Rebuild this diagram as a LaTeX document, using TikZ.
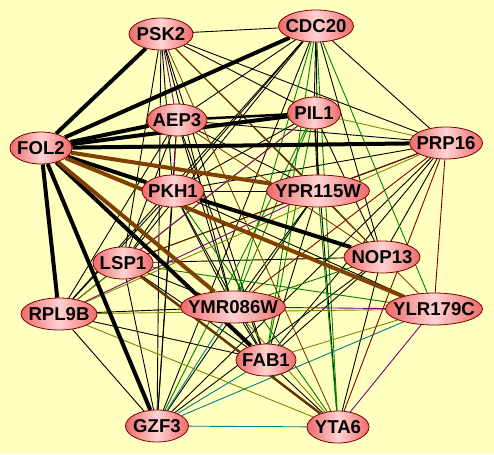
\documentclass[tikz,border=0pt]{standalone}
\usepackage{fontspec}
\setmainfont{Liberation Sans}
\usepackage{tikz}
\usetikzlibrary{shapes.geometric,backgrounds}
\definecolor{CanvasBG}  {HTML}{FFFFC0}
\definecolor{GeneRim}   {HTML}{7A0000}
\definecolor{GeneLight} {HTML}{FFD2D2}
\definecolor{GeneDark}  {HTML}{EE6A6A}
\definecolor{LinkBrown} {HTML}{7F4000}
\definecolor{LinkGreen} {HTML}{008000}
\definecolor{LinkOlive} {HTML}{7A8A00}
\definecolor{LinkTeal}  {HTML}{008080}
\definecolor{LinkPurple}{HTML}{800080}
\definecolor{LinkRed}   {HTML}{800000}

\tikzset{
  gene/.style={ellipse,draw=GeneRim,line width=0.8pt,left color=GeneDark,right color=GeneDark,
    middle color=GeneLight,inner xsep=-20pt,inner ysep=0pt,minimum height=32pt,
    font=\fontsize{18.6}{19}\selectfont\bfseries},
  weak/.style={line width=0.9pt},
  strong/.style={line width=4pt}
}

\begin{document}
\begin{tikzpicture}[x=1pt,y=-1pt]
    \useasboundingbox (0,0) rectangle (494,454);
    \node[gene,minimum width=64pt]  (psk) at (161,34)  {PSK2};
    \node[gene,minimum width=75pt]  (cdc) at (316,26)  {CDC20};
    \node[gene,minimum width=60pt]  (aep) at (177,120) {AEP3};
    \node[gene,minimum width=53pt]  (pil) at (314,113) {PIL1};
    \node[gene,minimum width=62pt]  (fol) at (41,148)  {FOL2};
    \node[gene,minimum width=73pt]  (prp) at (446,143) {PRP16};
    \node[gene,minimum width=62pt]  (pkh) at (173,191) {PKH1};
    \node[gene,minimum width=103pt] (ypr) at (318,191) {YPR115W};
    \node[gene,minimum width=60pt]  (lsp) at (123,263) {LSP1};
    \node[gene,minimum width=76pt]  (nop) at (382,257) {NOP13};
    \node[gene,minimum width=76pt]  (rpl) at (59,314)  {RPL9B};
    \node[gene,minimum width=105pt] (ymr) at (233,307) {YMR086W};
    \node[gene,minimum width=97pt]  (ylr) at (434,309) {YLR179C};
    \node[gene,minimum width=60pt]  (fab) at (266,360) {FAB1};
    \node[gene,minimum width=63pt]  (gzf) at (157,426) {GZF3};
    \node[gene,minimum width=62pt]  (yta) at (338,427) {YTA6};

    \begin{scope}[on background layer]
      \fill[CanvasBG] (0,0) rectangle (494,454);
      \foreach \a/\b in {psk/cdc,psk/pil,psk/prp,psk/ypr,psk/pkh,psk/lsp,psk/gzf,psk/ymr,psk/fab,
          cdc/aep,cdc/pkh,cdc/lsp,cdc/rpl,cdc/pil,cdc/ypr,cdc/prp,cdc/nop,cdc/gzf,
          aep/prp,aep/ypr,aep/lsp,aep/gzf,aep/fab,aep/ymr,aep/rpl,
          pil/pkh,pil/ypr,pil/nop,pil/yta,
          prp/pkh,prp/ypr,prp/fab,prp/nop,prp/gzf,
          pkh/ypr,pkh/lsp,pkh/rpl,pkh/gzf,pkh/fab,pkh/ylr,pkh/ymr,
          ypr/fab,ypr/gzf,ypr/nop,ypr/ymr,
          lsp/rpl,lsp/ymr,lsp/gzf,lsp/fab,lsp/nop,
          nop/fab,nop/gzf,nop/yta,rpl/ymr,rpl/gzf,rpl/fab,ymr/fab,fab/yta}
        \draw[weak,black] (\a) -- (\b);
      \foreach \a/\b in {cdc/ymr,cdc/yta,cdc/ylr,cdc/fab,lsp/ylr,lsp/ypr,nop/ymr,pil/ymr,pil/fab,
          ypr/yta,pil/gzf,pkh/yta}
        \draw[weak,LinkGreen] (\a) -- (\b);
      \foreach \a/\b in {rpl/ylr,rpl/yta,rpl/pil,rpl/prp,pil/prp,fab/ylr,ymr/yta}
        \draw[weak,LinkOlive] (\a) -- (\b);
      \foreach \a/\b in {gzf/yta,gzf/ymr,gzf/ylr,gzf/fab}
        \draw[weak,LinkTeal] (\a) -- (\b);
      \foreach \a/\b in {psk/aep,aep/pkh,lsp/pil,ymr/ylr,ylr/yta,rpl/ypr}
        \draw[weak,LinkPurple] (\a) -- (\b);
      \foreach \a/\b in {prp/ylr,prp/yta,prp/ymr,prp/lsp}
        \draw[weak,LinkRed] (\a) -- (\b);
      \foreach \a/\b in {psk/yta,psk/ylr,psk/nop,aep/nop}
        \draw[weak,LinkBrown] (\a) -- (\b);
      \draw[line width=2.5pt,LinkBrown!80!black] (lsp) -- (yta);
      \draw[line width=2.5pt] (aep) -- (pil);
      \foreach \b in {psk,cdc,aep,pil,prp,pkh,rpl,gzf,fab}
        \draw[strong] (fol) -- (\b);
      \draw[strong] (pkh) -- (nop);
      \foreach \b in {ypr,ylr,ymr}
        \draw[strong,LinkBrown] (fol) -- (\b);
    \end{scope}
  \end{tikzpicture}
\end{document}
